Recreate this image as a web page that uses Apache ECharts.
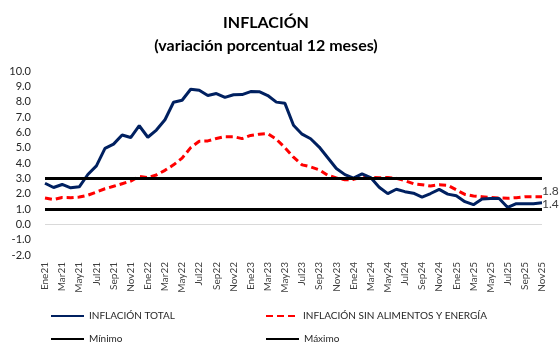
<!DOCTYPE html>
<html>
<head>
<meta charset="utf-8">
<script src="https://cdn.jsdelivr.net/npm/echarts@6/dist/echarts.min.js"></script>
<style>html,body{margin:0;padding:0;background:#fff}#c{width:560px;height:356px}</style>
</head>
<body>
<div id="c"></div>
<script>
const months = ['Ene','Feb','Mar','Abr','May','Jun','Jul','Ago','Sep','Oct','Nov','Dic'];
const years = ['21','22','23','24','25'];
const categories = [];
years.forEach(y => months.forEach(m => categories.push(m + y)));
categories.length = 59; // Ene21 .. Nov25

const inflacionTotal = [
  2.68, 2.40, 2.60, 2.38, 2.45, 3.25, 3.81, 4.95, 5.23, 5.83, 5.66, 6.43,
  5.68, 6.15, 6.82, 7.96, 8.09, 8.81, 8.74, 8.40, 8.53, 8.28, 8.45, 8.46,
  8.66, 8.65, 8.40, 7.97, 7.89, 6.46, 5.88, 5.58, 5.04, 4.34, 3.64, 3.24,
  3.02, 3.29, 3.05, 2.42, 2.00, 2.29, 2.13, 2.03, 1.78, 2.01, 2.28, 1.97,
  1.86, 1.48, 1.28, 1.65, 1.69, 1.69, 1.10, 1.35, 1.35, 1.35, 1.40
];
const inflacionSinAE = [
  1.72, 1.62, 1.75, 1.74, 1.78, 1.90, 2.10, 2.32, 2.48, 2.65, 2.82, 3.12,
  3.05, 3.22, 3.52, 3.88, 4.32, 5.00, 5.42, 5.44, 5.60, 5.72, 5.72, 5.59,
  5.80, 5.88, 5.92, 5.55, 5.00, 4.38, 3.88, 3.75, 3.56, 3.20, 3.03, 2.90,
  2.93, 3.08, 3.06, 3.04, 3.06, 3.00, 2.85, 2.65, 2.58, 2.50, 2.58, 2.55,
  2.25, 1.95, 1.85, 1.80, 1.75, 1.72, 1.70, 1.74, 1.80, 1.80, 1.80
];
const minimo = 1.0;
const maximo = 3.0;
const yTicks = { min: -2, max: 10, interval: 1 };

const FONT = 'Lato, "Liberation Sans", sans-serif';
const chart = echarts.init(document.getElementById('c'), null, { renderer: 'canvas' });

const legendText = { fontFamily: FONT, fontSize: 10, color: '#262626' };
const legendItem = { opacity: 0 };

chart.setOption({
  animation: false,
  backgroundColor: '#ffffff',
  textStyle: { fontFamily: FONT },
  title: [
    { text: 'INFLACIÓN', left: 261, top: 10, textAlign: 'center',
      textStyle: { fontFamily: FONT, fontSize: 16, fontWeight: 'bold', color: '#000' } },
    { text: '(variación porcentual 12 meses)', left: 261, top: 33, textAlign: 'center',
      textStyle: { fontFamily: FONT, fontSize: 16, fontWeight: 'bold', color: '#000' } }
  ],
  grid: { left: 45, right: 18, top: 71, bottom: 101, containLabel: false },
  legend: [
    { data: ['INFLACIÓN TOTAL'], left: 45, top: 306, itemWidth: 33, itemHeight: 12,
      itemStyle: legendItem, textStyle: legendText },
    { data: ['INFLACIÓN SIN ALIMENTOS Y ENERGÍA'], left: 260, top: 306, itemWidth: 32, itemHeight: 12,
      itemStyle: legendItem, textStyle: legendText },
    { data: ['Mínimo'], left: 45, top: 329, itemWidth: 33, itemHeight: 12,
      itemStyle: legendItem, textStyle: legendText },
    { data: ['Máximo'], left: 260, top: 329, itemWidth: 33, itemHeight: 12,
      itemStyle: legendItem, textStyle: legendText }
  ],
  xAxis: {
    type: 'category',
    data: categories,
    boundaryGap: false,
    axisLine: { show: false },
    axisTick: { show: false },
    axisLabel: { interval: 1, rotate: 90, margin: 7, fontFamily: FONT, fontSize: 10, color: '#404040' },
    splitLine: { show: false }
  },
  yAxis: {
    type: 'value',
    min: yTicks.min, max: yTicks.max, interval: yTicks.interval,
    axisLine: { show: false },
    axisTick: { show: false },
    splitLine: { show: false },
    axisLabel: { margin: 14, fontFamily: FONT, fontSize: 11, color: '#262626',
      formatter: v => v.toFixed(1) }
  },
  series: [
    {
      name: 'Mínimo', type: 'line', data: [], showSymbol: false, symbol: 'none', silent: true,
      lineStyle: { color: '#000', width: 3 }, itemStyle: { color: '#000' },
      markLine: { silent: true, symbol: 'none', label: { show: false },
        lineStyle: { color: '#000', width: 3, type: 'solid' },
        data: [{ yAxis: minimo }] },
      z: 2
    },
    {
      name: 'Máximo', type: 'line', data: [], showSymbol: false, symbol: 'none', silent: true,
      lineStyle: { color: '#000', width: 3 }, itemStyle: { color: '#000' },
      markLine: { silent: true, symbol: 'none', label: { show: false },
        lineStyle: { color: '#000', width: 3, type: 'solid' },
        data: [{ yAxis: maximo }] },
      z: 2
    },
    {
      name: 'zero', type: 'line', data: [], silent: true, symbol: 'none',
      markLine: { silent: true, symbol: 'none', label: { show: false },
        lineStyle: { color: '#d9d9d9', width: 1, type: 'solid' },
        data: [{ yAxis: 0 }] },
      z: 1
    },
    {
      name: 'INFLACIÓN SIN ALIMENTOS Y ENERGÍA', type: 'line', data: inflacionSinAE,
      showSymbol: false, symbol: 'none',
      lineStyle: { color: '#ff0000', width: 3, type: [7, 4] },
      itemStyle: { color: '#ff0000' },
      endLabel: { show: true, distance: 0, offset: [0, -6], fontFamily: FONT, fontSize: 12, color: '#404040',
        formatter: p => Number(p.value).toFixed(1) },
      z: 3
    },
    {
      name: 'INFLACIÓN TOTAL', type: 'line', data: inflacionTotal,
      showSymbol: false, symbol: 'none',
      lineStyle: { color: '#002060', width: 3 },
      itemStyle: { color: '#002060' },
      endLabel: { show: true, distance: 0, offset: [0, 1], fontFamily: FONT, fontSize: 12, color: '#404040',
        formatter: p => Number(p.value).toFixed(1) },
      z: 4
    }
  ]
});
</script>
</body>
</html>
